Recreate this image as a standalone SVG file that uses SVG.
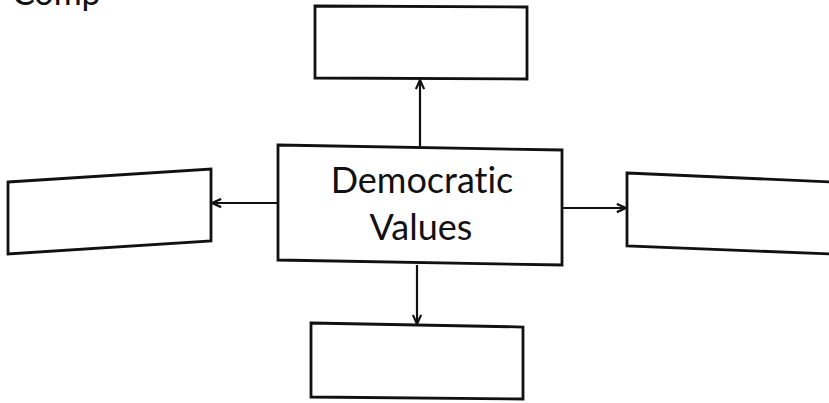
<svg xmlns="http://www.w3.org/2000/svg" width="829" height="403" viewBox="0 0 829 403">
<style>
.box{fill:#fff;stroke:#111;stroke-width:2.8;stroke-linejoin:miter}
.con{stroke:#111;stroke-width:2.2;fill:none}
.lbl{font-family:Lato,"Open Sans",sans-serif;font-size:36px;fill:#111;text-anchor:middle;font-variant-ligatures:none}
</style>
<defs>
<marker id="arr" viewBox="0 0 12 12" refX="11" refY="6" markerWidth="11" markerHeight="11" markerUnits="userSpaceOnUse" orient="auto">
<path d="M1,1.5 L11,6 L1,10.5" fill="none" stroke="#111" stroke-width="2.4"/>
</marker>
</defs>
<rect width="829" height="403" fill="#fff"/>
<text x="12" y="5" style="font-family:Lato,'Open Sans',sans-serif;font-size:34px;fill:#111">Comp</text>
<g id="connectors">
<line class="con" x1="420" y1="146" x2="420" y2="80" marker-end="url(#arr)"/>
<line class="con" x1="278" y1="203" x2="212" y2="203" marker-end="url(#arr)"/>
<line class="con" x1="562" y1="208" x2="626" y2="208" marker-end="url(#arr)"/>
<line class="con" x1="417" y1="265" x2="417" y2="324" marker-end="url(#arr)"/>
</g>
<g id="node-top"><polygon class="box" points="315,6 527,7 527,79 315,78"/></g>
<g id="node-left"><polygon class="box" points="8,182 211,169 211,241 8,254"/></g>
<g id="node-right"><polygon class="box" points="627,173 832,182 832,254 627,246"/></g>
<g id="node-bottom"><polygon class="box" points="311,323 523,327 523,399 311,397"/></g>
<g id="node-center">
<polygon class="box" points="278,145 562,150 562,265 278,260"/>
<text class="lbl" x="422" y="193">Democratic</text>
<text class="lbl" x="421" y="240">Values</text>
</g>
</svg>
